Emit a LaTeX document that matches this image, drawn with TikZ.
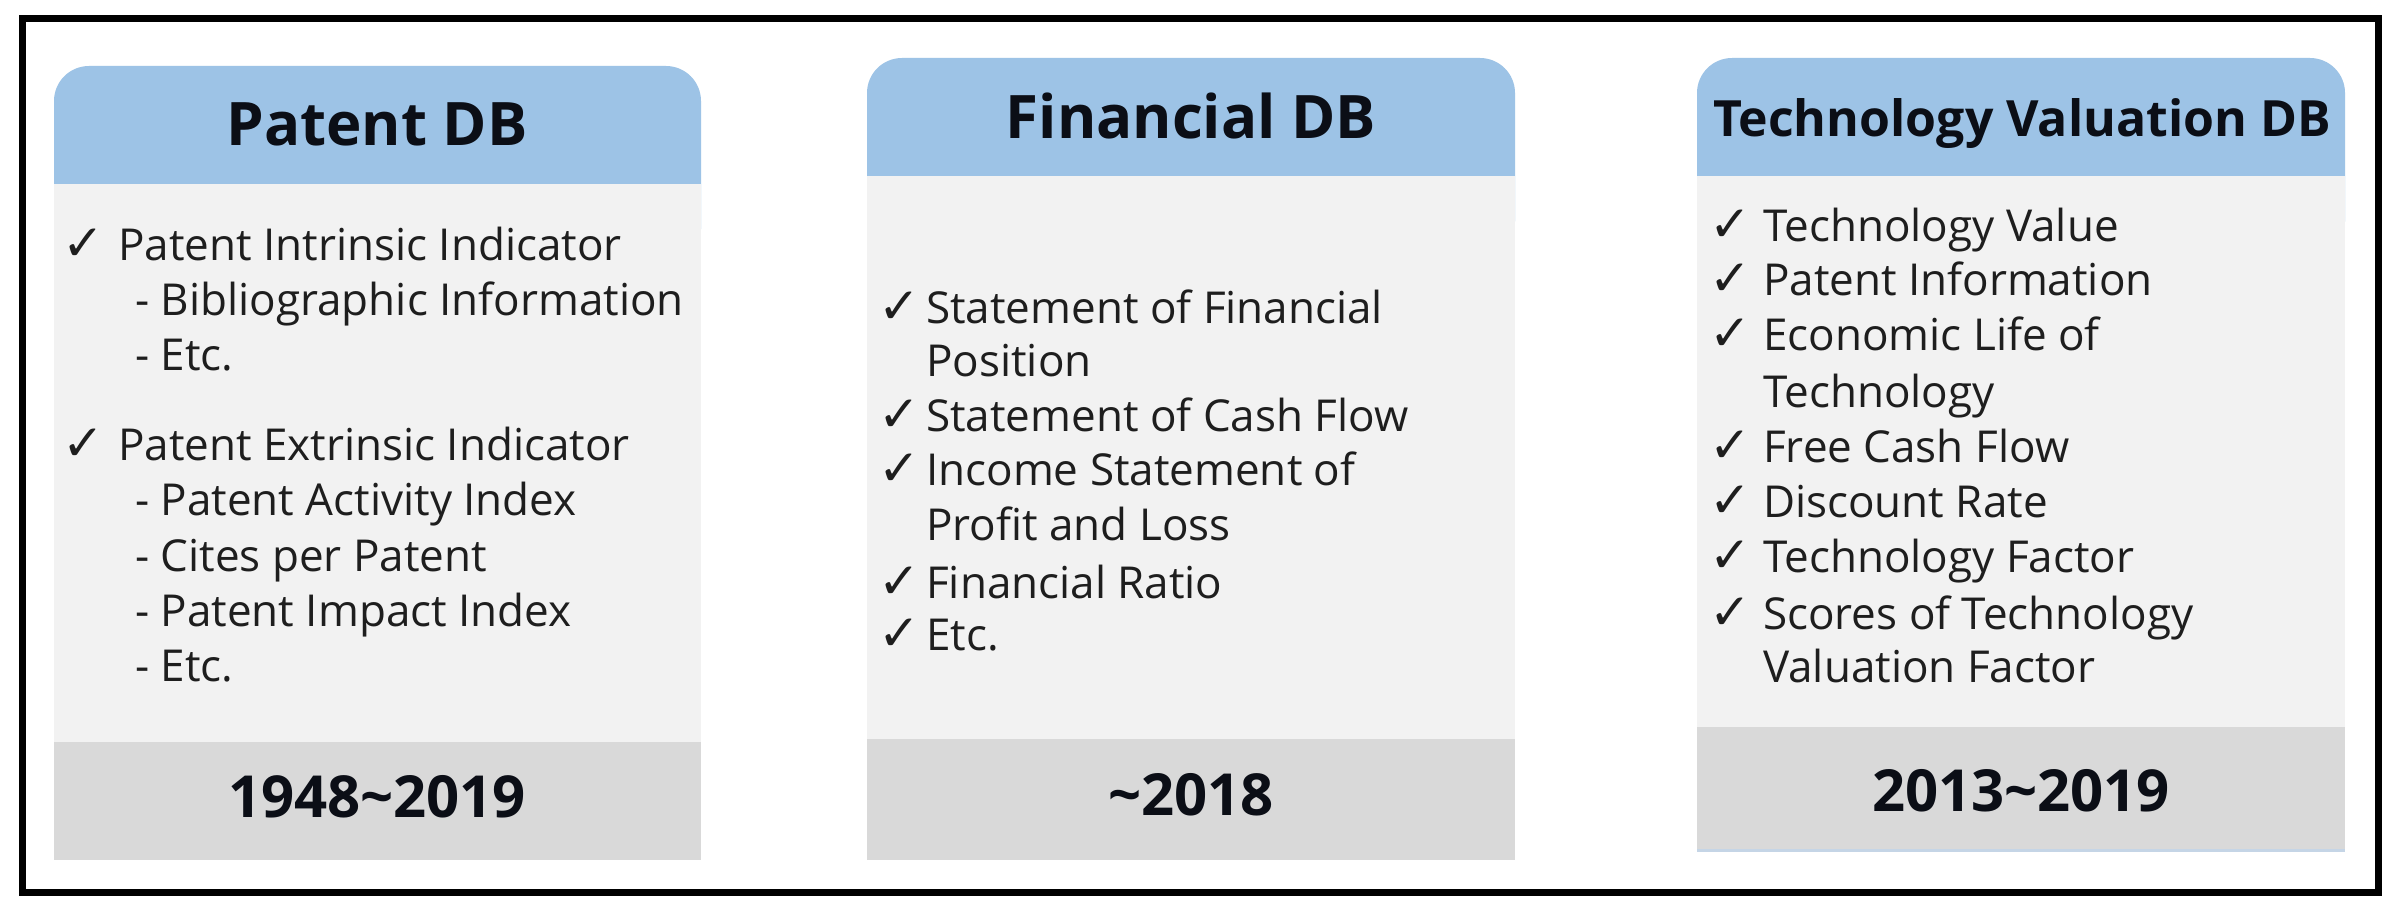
\documentclass[tikz,border=0pt]{standalone}
\usepackage{fontspec}
\setmainfont{Open Sans}
\newfontfamily\chkfont{DejaVu Sans}
\definecolor{hdrblue}{HTML}{9DC3E6}
\definecolor{bodygrey}{HTML}{F2F2F2}
\definecolor{bandgrey}{HTML}{D9D9D9}
\definecolor{bodytxt}{HTML}{1E1E1E}
\definecolor{hdrtxt}{HTML}{0B0E16}
\definecolor{edgeblue}{HTML}{C5D5E6}
\newcommand\dbcol[6]{%
  \fill[hdrblue, rounded corners=35] (#1,#3) rectangle (#2,#4+80);
  \fill[bodygrey] (#1,#4) rectangle (#2,#5);
  \fill[bandgrey] (#1,#5) rectangle (#2,#6);
}
\begin{document}
\begin{tikzpicture}[x=1pt,y=-1pt,
  item/.style={anchor=base west, inner sep=0pt, font=\fontsize{44}{50}\selectfont, text=bodytxt},
  tick/.style={anchor=base west, inner sep=0pt, font=\chkfont\fontsize{50}{56}\selectfont, text=bodytxt},
  hdr/.style={anchor=base, inner sep=0pt, font=\fontsize{60}{66}\selectfont\bfseries, text=hdrtxt},
  hdrsmall/.style={hdr, font=\fontsize{50}{56}\selectfont\bfseries},
  yr/.style={anchor=base, inner sep=0pt, font=\fontsize{58}{64}\selectfont\bfseries, text=hdrtxt}]
\useasboundingbox (0,0) rectangle (2400,915);
\fill[white] (0,0) rectangle (2400,915);

% columns
\dbcol{54}{701}{66}{184}{742}{860}
\dbcol{867}{1515}{58}{176}{739}{860}
\dbcol{1697}{2345}{58}{176}{727}{851}
\draw[edgeblue, line width=3] (1697,850) -- (2345,850);

% frame
\draw[black, line width=7] (22,19) rectangle (2378,892);

% Patent DB
\node[hdr] (pH) at (377,146) {Patent DB};
\node[tick] (pc1) at (62,260) {✓};
\node[item] (p1) at (118,260) {Patent Intrinsic Indicator};
\node[item] (p2) at (135,315) {- Bibliographic Information};
\node[item] (p3) at (135,370) {- Etc.};
\node[tick] (pc2) at (62,460) {✓};
\node[item] (p4) at (118,460) {Patent Extrinsic Indicator};
\node[item] (p5) at (135,515) {- Patent Activity Index};
\node[item] (p6) at (135,571) {- Cites per Patent};
\node[item] (p7) at (135,626) {- Patent Impact Index};
\node[item] (p8) at (135,681) {- Etc.};
\node[yr] (pY) at (377,817) {1948\textasciitilde2019};

% Financial DB
\node[hdr] (fH) at (1191,139) {Financial DB};
\node[tick] (fc1) at (878,323) {✓};
\node[item] (f1) at (926,323) {Statement of Financial};
\node[item] (f2) at (926,376) {Position};
\node[tick] (fc2) at (878,431) {✓};
\node[item] (f3) at (926,431) {Statement of Cash Flow};
\node[tick] (fc3) at (878,485) {✓};
\node[item] (f4) at (926,485) {Income Statement of};
\node[item] (f5) at (926,540) {Profit and Loss};
\node[tick] (fc4) at (878,598) {✓};
\node[item] (f6) at (926,598) {Financial Ratio};
\node[tick] (fc5) at (878,650) {✓};
\node[item] (f7) at (926,650) {Etc.};
\node[yr] (fY) at (1191,815) {\textasciitilde2018};

% Technology Valuation DB
\node[hdrsmall] (tH) at (2022,136) {Technology Valuation DB};
\node[tick] (tc1) at (1709,241) {✓};
\node[item] (t1) at (1763,241) {Technology Value};
\node[tick] (tc2) at (1709,295) {✓};
\node[item] (t2) at (1763,295) {Patent Information};
\node[tick] (tc3) at (1709,350) {✓};
\node[item] (t3) at (1763,350) {Economic Life of};
\node[item] (t4) at (1763,407) {Technology};
\node[tick] (tc4) at (1709,462) {✓};
\node[item] (t5) at (1763,462) {Free Cash Flow};
\node[tick] (tc5) at (1709,517) {✓};
\node[item] (t6) at (1763,517) {Discount Rate};
\node[tick] (tc6) at (1709,572) {✓};
\node[item] (t7) at (1763,572) {Technology Factor};
\node[tick] (tc7) at (1709,629) {✓};
\node[item] (t8) at (1763,629) {Scores of Technology};
\node[item] (t9) at (1763,682) {Valuation Factor};
\node[yr] (tY) at (2021,811) {2013\textasciitilde2019};
\end{tikzpicture}
\end{document}
